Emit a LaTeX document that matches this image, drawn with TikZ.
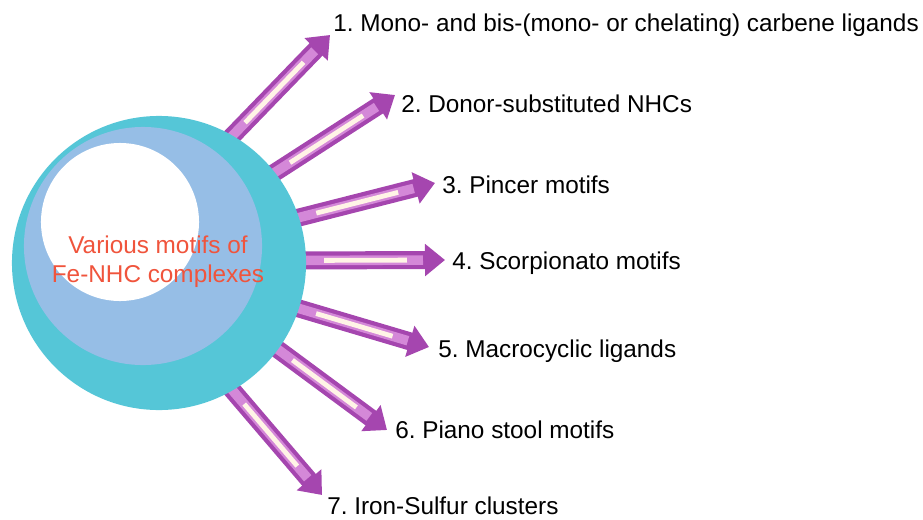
\documentclass[tikz,border=0pt]{standalone}
\usepackage{fontspec}
\setmainfont{Liberation Sans}
\usetikzlibrary{arrows.meta, positioning, backgrounds}
\definecolor{myteal}{RGB}{85,198,215}
\definecolor{mysky}{RGB}{150,190,230}
\definecolor{myred}{RGB}{240,84,60}
\definecolor{mypurple}{RGB}{165,70,175}
\definecolor{mymauve}{RGB}{212,136,216}
\definecolor{mycream}{RGB}{255,244,230}
\tikzset{
  disc/.style={circle, inner sep=0pt, outer sep=0pt, draw=none},
  motif/.style={anchor=base west, inner sep=0pt,
    font=\fontsize{17.3}{20}\selectfont, text=black},
  fatarrow/.style={draw=mypurple, line width=0.45cm, shorten <=-0.3cm,
    -{Triangle[width=0.78cm, length=0.5cm]},
    postaction={draw=mymauve, -, line width=0.24cm, shorten >=0.55cm},
    postaction={draw=mycream, -, line width=0.12cm,
      shorten <=0.45cm, shorten >=0.95cm}}
}

\begin{document}
\frenchspacing
\begin{tikzpicture}[x=0.025cm, y=-0.025cm]
  \useasboundingbox (0,0) rectangle (923,520);

  % the three discs
  \node[disc, fill=myteal, minimum size=7.35cm] (hub)  at (159,263) {};
  \node[disc, fill=mysky,  minimum size=5.95cm] (ring) at (143,246) {};
  \node[disc, fill=white,  minimum size=3.95cm] (core) at (120,222) {};

  % central caption
  \node[align=center, inner sep=0pt, text=myred,
    font=\fontsize{17.3}{20.6}\selectfont] (title) at (158,262)
    {Various motifs of\\Fe-NHC complexes};

  % arrow tips
  \coordinate (t1) at (330,35);
  \coordinate (t2) at (395,95);
  \coordinate (t3) at (435,183);
  \coordinate (t4) at (445,260);
  \coordinate (t5) at (429,347);
  \coordinate (t6) at (387,430);
  \coordinate (t7) at (322,495);

  % labels
  \node[motif] (m1) at (333,31)  {1. Mono- and bis-(mono- or chelating) carbene ligands};
  \node[motif] (m2) at (401,112) {2. Donor-substituted NHCs};
  \node[motif] (m3) at (442,193) {3. Pincer motifs};
  \node[motif] (m4) at (452,269) {4. Scorpionato motifs};
  \node[motif] (m5) at (438,357) {5. Macrocyclic ligands};
  \node[motif] (m6) at (395,438) {6. Piano stool motifs};
  \node[motif] (m7) at (327,514) {7. Iron-Sulfur clusters};

  % arrows behind the hub
  \begin{scope}[on background layer]
    \draw[fatarrow] (hub.60)  -- (t1);
    \draw[fatarrow] (hub.38)  -- (t2);
    \draw[fatarrow] (hub.18)  -- (t3);
    \draw[fatarrow] (hub.1)   -- (t4);
    \draw[fatarrow] (hub.-18) -- (t5);
    \draw[fatarrow] (hub.-36) -- (t6);
    \draw[fatarrow] (hub.-60) -- (t7);
  \end{scope}
\end{tikzpicture}
\end{document}
